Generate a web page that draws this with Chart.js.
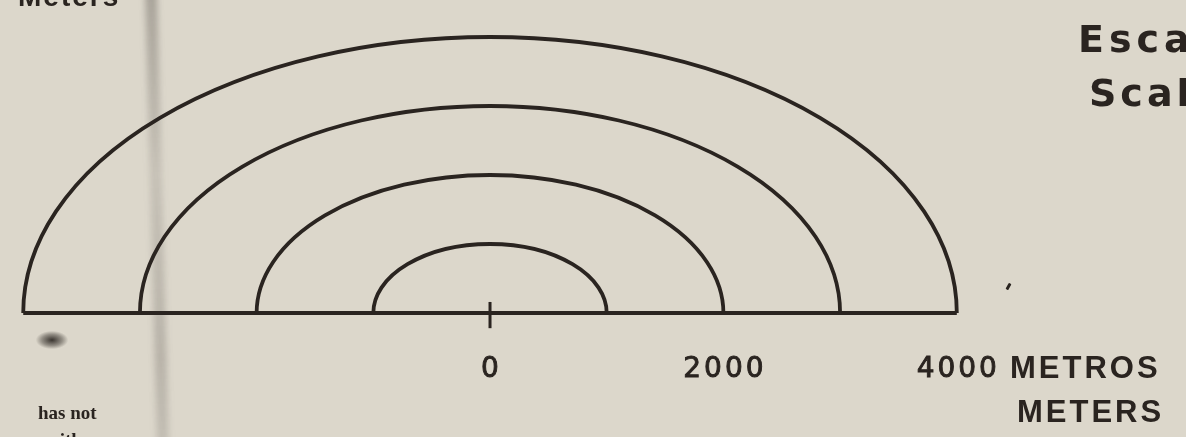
<!DOCTYPE html>
<html>
<head>
<meta charset="utf-8">
<script src="https://cdn.jsdelivr.net/npm/chart.js@4/dist/chart.umd.min.js"></script>
<style>
  html, body { margin: 0; padding: 0; }
  body {
    width: 1186px; height: 437px; overflow: hidden; position: relative;
    background: #dcd7cb;
  }
  #wrap { position: absolute; left: 0; top: 0; width: 1186px; height: 437px; }
  .txt { position: absolute; white-space: nowrap; color: #2a2420; line-height: 1; }
  .sans { font-family: "Liberation Sans", Arial, sans-serif; font-weight: bold; }
  .wide { font-family: "DejaVu Sans", sans-serif; font-weight: bold; }
  .serif { font-family: "Liberation Serif", serif; font-weight: bold; }
  .smudge {
    position: absolute; left: 151px; top: -10px; width: 12px; height: 460px;
    background: linear-gradient(to bottom, rgba(70,65,60,0.35), rgba(110,105,100,0.2) 40%, rgba(90,85,80,0.28) 80%, rgba(110,105,100,0.22));
    filter: blur(3px); transform: rotate(-1.5deg);
  }
  .blot {
    position: absolute; left: 36px; top: 331px; width: 32px; height: 18px;
    background: radial-gradient(ellipse at center, rgba(40,35,30,0.9), rgba(40,35,30,0.4) 45%, rgba(40,35,30,0) 72%);
  }
  .dash {
    position: absolute; left: 1007px; top: 283px; width: 3px; height: 7px;
    background: #2a2420; transform: rotate(30deg); border-radius: 1px;
  }
</style>
</head>
<body>
<div class="smudge"></div>
<div class="blot"></div>
<div class="dash"></div>
<div id="wrap"><canvas id="chart"></canvas></div>

<div class="txt sans" style="left:18px; top:-17px; font-size:28px; letter-spacing:2px;">Meters</div>
<div class="txt wide" style="left:1078px; top:20px; font-size:38px; letter-spacing:5px;">Escala</div>
<div class="txt wide" style="left:1089px; top:74px; font-size:38px; letter-spacing:4px;">Scale</div>
<div class="txt sans" style="left:1010px; top:352px; font-size:31px; letter-spacing:3px;">METROS</div>
<div class="txt sans" style="left:1017px; top:396px; font-size:31px; letter-spacing:3px;">METERS</div>
<div class="txt serif" style="left:38px; top:403px; font-size:19px;">has not</div>
<div class="txt serif" style="left:46px; top:430px; font-size:19px;">with</div>

<script>
// scale bar data (metres)
const arcRadii = [1000, 2000, 3000, 4000];
const tickValues = [0, 2000, 4000];
const tickLabels = ["0", "2000", "4000"];
const baseLine = [{ x: -4000, y: 0 }, { x: 4000, y: 0 }];
const zeroTick = [{ x: 0, y: -220 }, { x: 0, y: 160 }];

const INK = "#2a2420";

const semicircles = {
    id: "semicircles",
    afterDatasetsDraw(chart) {
        const { ctx, scales: { x, y } } = chart;
        const cx = x.getPixelForValue(0);
        const cy = y.getPixelForValue(0);
        ctx.save();
        ctx.strokeStyle = INK;
        ctx.lineWidth = 3.8;
        arcRadii.forEach((r) => {
            const rx = x.getPixelForValue(r) - cx;
            const ry = cy - y.getPixelForValue(r);
            ctx.beginPath();
            ctx.ellipse(cx, cy, rx, ry, 0, Math.PI, 2 * Math.PI);
            ctx.stroke();
        });
        ctx.restore();
    },
};

const scaleLabels = {
    id: "scaleLabels",
    afterDraw(chart) {
        const { ctx, scales: { x, y } } = chart;
        const base = y.getPixelForValue(0);
        ctx.save();
        ctx.fillStyle = INK;
        ctx.strokeStyle = INK;
        ctx.lineWidth = 0.9;
        ctx.font = "28px 'DejaVu Sans', sans-serif";
        ctx.letterSpacing = "3px";
        ctx.textAlign = "center";
        ctx.textBaseline = "alphabetic";
        tickValues.forEach((v, i) => {
            const px = x.getPixelForValue(v) + 1.5;
            ctx.fillText(tickLabels[i], px, base + 64);
            ctx.strokeText(tickLabels[i], px, base + 64);
        });
        ctx.restore();
    },
};

new Chart(document.getElementById("chart"), {
    type: "scatter",
    data: {
        datasets: [
            {
                data: baseLine,
                showLine: true,
                borderColor: INK,
                borderWidth: 4,
                pointRadius: 0,
            },
            {
                data: zeroTick,
                showLine: true,
                borderColor: INK,
                borderWidth: 3,
                pointRadius: 0,
            },
        ],
    },
    options: {
        responsive: true,
        maintainAspectRatio: false,
        animation: false,
        layout: { padding: 0 },
        plugins: { legend: { display: false }, tooltip: { enabled: false } },
        scales: {
            x: { type: "linear", display: false, min: -4199, max: 5964 },
            y: { type: "linear", display: false, min: -1797, max: 4536 },
        },
    },
    plugins: [semicircles, scaleLabels],
});
</script>
</body>
</html>
